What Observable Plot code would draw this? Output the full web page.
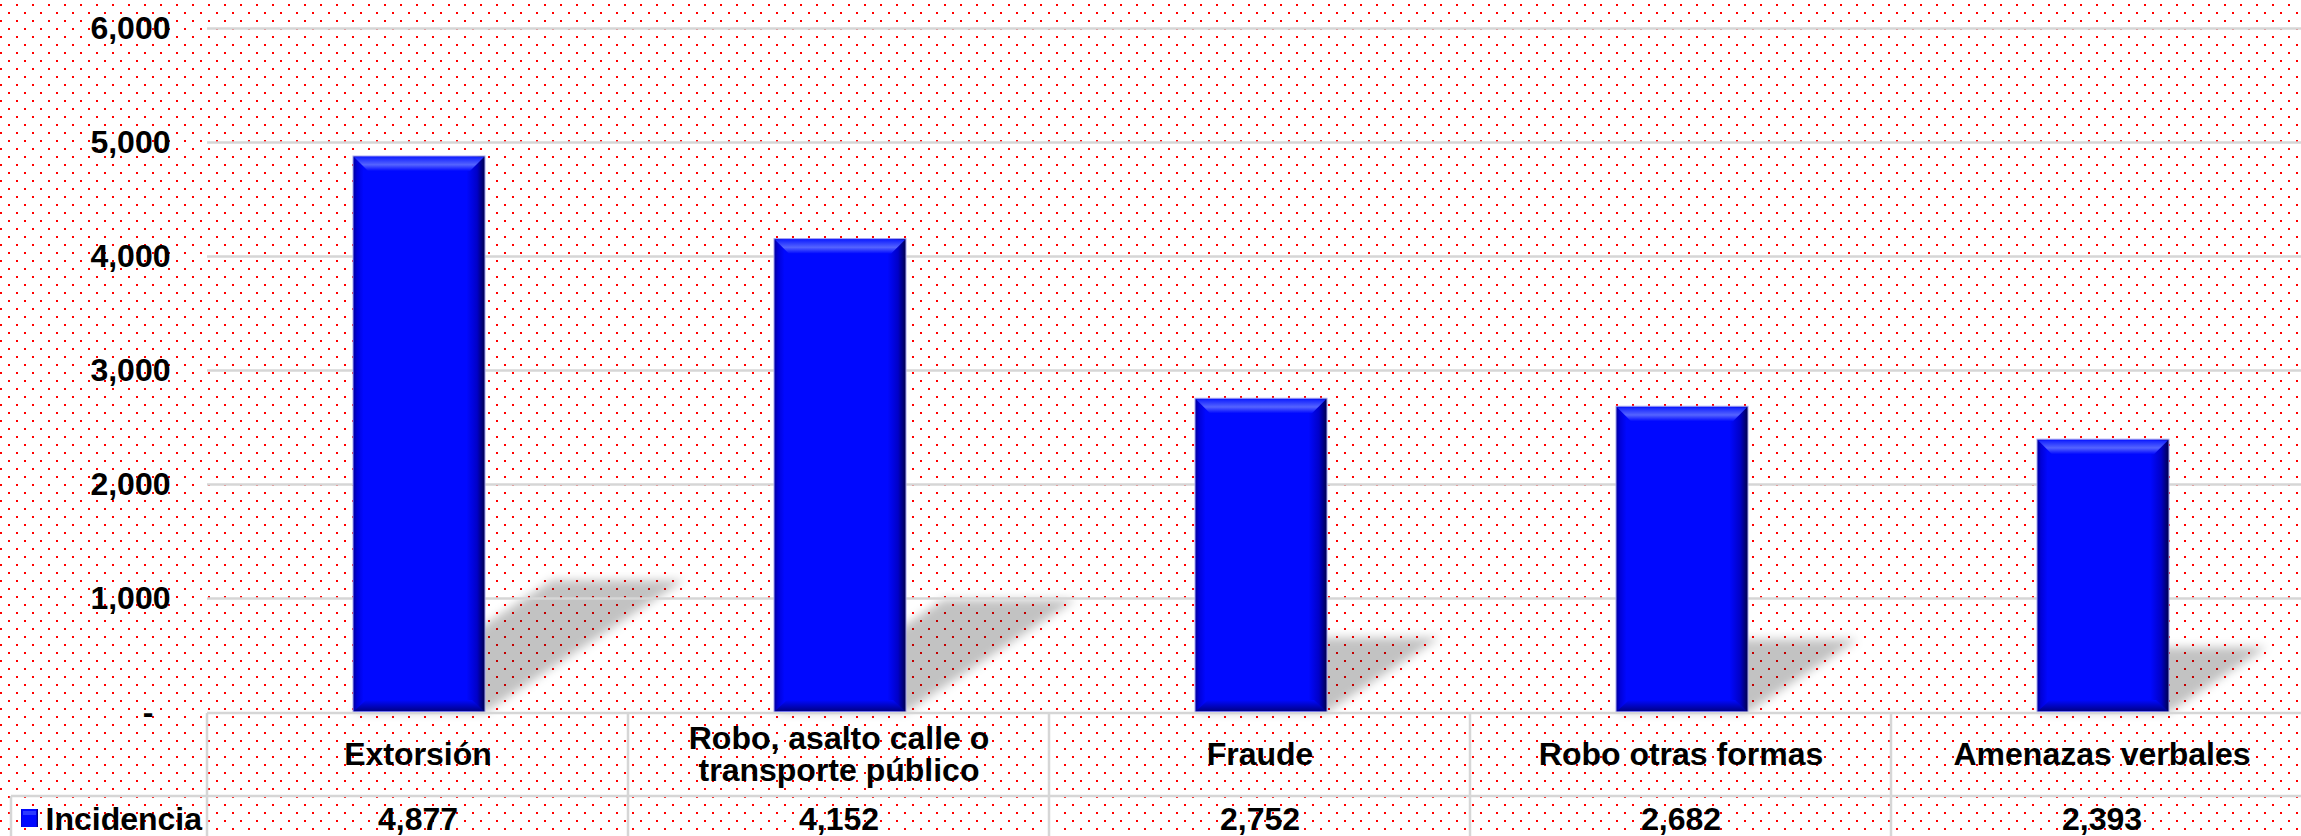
<!DOCTYPE html>
<html><head><meta charset="utf-8">
<script src="https://cdn.jsdelivr.net/npm/d3@7"></script>
<script src="https://cdn.jsdelivr.net/npm/@observablehq/plot@0.6"></script>
<style>
html,body{margin:0;padding:0;background:#fff;overflow:hidden}
#chart svg{display:block}
</style></head><body><div id="chart"></div>
<script>
// ---- data ----
const categories = ["Extorsión", "Robo, asalto calle o\ntransporte público", "Fraude", "Robo otras formas", "Amenazas verbales"];
const values = [4877, 4152, 2752, 2682, 2393];
const valueLabels = ["4,877", "4,152", "2,752", "2,682", "2,393"];
const yTicks = [0, 1000, 2000, 3000, 4000, 5000, 6000];
const yTickLabels = ["-", "1,000", "2,000", "3,000", "4,000", "5,000", "6,000"];
const seriesName = "Incidencia";

const data = categories.map((c, i) => ({category: c, value: values[i], label: valueLabels[i]}));
const ticks = yTicks.map((v, i) => ({v, label: yTickLabels[i]}));

const W = 2301, H = 836, ML = 207, MT = 28, MB = 124;
const CELL = 421;
const FONT = '"Liberation Sans", Arial, sans-serif';
const INSET_L = 146, INSET_R = 143;
const svgNS = "http://www.w3.org/2000/svg";
function el(tag, attrs) { const e = document.createElementNS(svgNS, tag); for (const k in attrs) e.setAttribute(k, attrs[k]); return e; }
function bw(scales) {
  const b = scales.x.bandwidth;
  if (typeof b === "function") return b.call(scales.x);
  if (typeof b === "number") return b;
  return CELL;
}

function background(index, scales, vals, dims) {
  const g = el("g", {});
  const defs = el("defs", {});
  const pat = el("pattern", {id: "dots", width: 16, height: 16, patternUnits: "userSpaceOnUse"});
  pat.appendChild(el("rect", {x: 0, y: 4, width: 2, height: 2, fill: "#ff0000"}));
  pat.appendChild(el("rect", {x: 8, y: 12, width: 2, height: 2, fill: "#ff0000"}));
  defs.appendChild(pat);
  const grad = el("linearGradient", {id: "barGrad", x1: 0, y1: 0, x2: 1, y2: 0});
  [[0, "#00009a"], [0.03, "#0000d8"], [0.08, "#0008ff"], [0.86, "#0008ff"], [0.94, "#0000c8"], [1, "#00004a"]]
    .forEach(([o, c]) => grad.appendChild(el("stop", {offset: o, "stop-color": c})));
  defs.appendChild(grad);
  const top = el("linearGradient", {id: "topGrad", x1: 0, y1: 0, x2: 0, y2: 1});
  [[0, "#1020ff"], [0.55, "#5564ff"], [1, "#0008ff"]]
    .forEach(([o, c]) => top.appendChild(el("stop", {offset: o, "stop-color": c})));
  defs.appendChild(top);
  const bot = el("linearGradient", {id: "botGrad", x1: 0, y1: 0, x2: 0, y2: 1});
  [[0, "#0008ff"], [1, "#00008a"]]
    .forEach(([o, c]) => bot.appendChild(el("stop", {offset: o, "stop-color": c})));
  defs.appendChild(bot);
  const f = el("filter", {id: "blur", x: "-20%", y: "-20%", width: "140%", height: "140%"});
  f.appendChild(el("feGaussianBlur", {stdDeviation: 5}));
  defs.appendChild(f);
  g.appendChild(defs);
  g.appendChild(el("rect", {x: 0, y: 0, width: dims.width, height: dims.height, fill: "#ffffff"}));
  g.appendChild(el("rect", {x: 0, y: 0, width: dims.width, height: dims.height, fill: "url(#dots)"}));
  return g;
}

function shadows(index, scales) {
  const g = el("g", {filter: "url(#blur)"});
  const b = bw(scales);
  const y0 = scales.y(0);
  for (const d of data) {
    const xl = scales.x(d.category) + INSET_L, xr = scales.x(d.category) + b - INSET_R;
    const hp = y0 - scales.y(d.value);
    const h = 0.237 * hp, dx = 0.358 * hp;
    g.appendChild(el("polygon", {
      points: `${xl},${y0} ${xr},${y0} ${xr + dx},${y0 - h} ${xl + dx},${y0 - h}`,
      fill: "#000", "fill-opacity": 0.24
    }));
  }
  return g;
}

function bevels(index, scales) {
  const g = el("g", {});
  const b = bw(scales);
  const y0 = scales.y(0);
  for (const d of data) {
    const xl = scales.x(d.category) + INSET_L + 1, xr = scales.x(d.category) + b - INSET_R - 1;
    const yt = scales.y(d.value) + 1;
    g.appendChild(el("polygon", {points: `${xl},${yt} ${xr},${yt} ${xr - 14},${yt + 14} ${xl + 14},${yt + 14}`, fill: "url(#topGrad)"}));
    g.appendChild(el("polygon", {points: `${xl + 12},${y0 - 12} ${xr - 12},${y0 - 12} ${xr},${y0 - 1} ${xl},${y0 - 1}`, fill: "url(#botGrad)"}));
  }
  return g;
}

function table(index, scales, vals, dims) {
  const g = el("g", {stroke: "#d6d6d6", "stroke-width": 2.5, fill: "none"});
  const y0 = scales.y(0);
  const rowY = y0 + 84;
  const right = dims.width;
  g.appendChild(el("line", {x1: dims.marginLeft, x2: right, y1: y0 + 1, y2: y0 + 1}));
  g.appendChild(el("line", {x1: 11, x2: right, y1: rowY, y2: rowY}));
  g.appendChild(el("line", {x1: 11, x2: 11, y1: rowY, y2: dims.height}));
  categories.forEach((c) => {
    const x = scales.x(c);
    g.appendChild(el("line", {x1: x, x2: x, y1: y0 + 1, y2: dims.height}));
  });
  // legend key
  const k = el("g", {stroke: "none"});
  k.appendChild(el("rect", {x: 21, y: rowY + 13, width: 17, height: 18, fill: "url(#barGrad)"}));
  k.appendChild(el("rect", {x: 23, y: rowY + 15, width: 13, height: 4, fill: "#4b5bff", opacity: 0.6}));
  g.appendChild(k);
  return g;
}

const txt = {fontSize: 32, fontWeight: "bold", fill: "#000", fontFamily: FONT};

const chart = Plot.plot({
  width: W, height: H,
  marginLeft: ML, marginRight: 0, marginTop: MT, marginBottom: MB,
  style: {background: "transparent", fontFamily: FONT, overflow: "visible"},
  x: {domain: categories, padding: 0, range: [ML, ML + CELL * categories.length], axis: null},
  y: {domain: [0, 6000], axis: null},
  marks: [
    background,
    shadows,
    Plot.ruleY(yTicks.filter(v => v > 0), {stroke: "#d6d6d6", strokeWidth: 2.5}),
    Plot.barY(data, {x: "category", y: "value", fill: "url(#barGrad)", stroke: "#a4a4f0", strokeWidth: 1, insetLeft: INSET_L, insetRight: INSET_R}),
    bevels,
    table,
    Plot.text(ticks.filter(t => t.v > 0), {y: "v", text: "label", frameAnchor: "left", dx: -37, textAnchor: "end", ...txt}),
    Plot.text(ticks.filter(t => t.v === 0), {y: "v", text: "label", frameAnchor: "left", dx: -54, textAnchor: "end", ...txt}),
    Plot.text(data, {x: "category", y: d => 0, text: "category", dy: 42, lineAnchor: "middle", lineHeight: 1, ...txt}),
    Plot.text(data, {x: "category", y: d => 0, text: "label", dy: 107, lineAnchor: "middle", ...txt}),
    Plot.text([seriesName], {y: d => 0, text: d => d, frameAnchor: "left", dx: -162, dy: 107, textAnchor: "start", ...txt})
  ]
});
document.getElementById("chart").appendChild(chart);
</script>
</body></html>
